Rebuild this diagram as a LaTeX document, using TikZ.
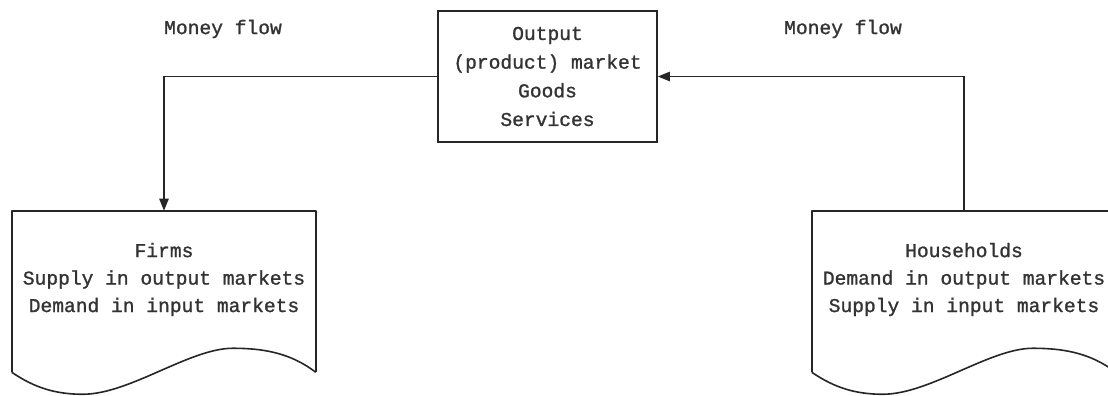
\documentclass[tikz,border=0pt]{standalone}
\usepackage{fontspec}
\setmonofont[FakeBold=1.2]{Liberation Mono}
\usetikzlibrary{arrows.meta}
\begin{document}
\begin{tikzpicture}[x=0.75pt,y=-0.75pt,
  lbl/.style={font=\ttfamily\fontsize{14.7}{21}\selectfont, inner sep=0pt, align=center, text=black!80},
  conn/.style={line width=1.1pt, draw=black!85},
  arr/.style={conn,-{Triangle[length=9pt,width=7pt]}},
  mbox/.style={draw=black!85, line width=1.2pt, minimum width=164.25pt, minimum height=98.25pt, inner sep=0pt, align=center,
    font=\ttfamily\fontsize{14.7}{21.5}\selectfont, text=black!80},
  docarea/.style={draw=none, minimum width=228pt, minimum height=120.75pt, inner sep=0pt},
  docshape/.style={draw=black!85, line width=1.2pt, line join=round}
]
\useasboundingbox (0,0) rectangle (1108,396);
\clip (0,0) rectangle (1108,396);

% output market box
\node[mbox] (out) at (547.5,76.5) {Output\\(product) market\\Goods\\Services};

% document areas
\node[docarea] (firms) at (164,291.5) {};
\node[docarea] (house) at (964,291.5) {};

\foreach \d in {firms,house}{
  \draw[docshape] (\d.south west) -- (\d.north west) -- (\d.north east) -- (\d.south east);
  \begin{scope}[shift={(\d.south west)}]
    \draw[docshape] (304,0) .. controls (278,-20) and (250,-24) .. (221,-24)
      .. controls (178,-24) and (118,22) .. (71,22)
      .. controls (38,22) and (18,12) .. (0,0);
  \end{scope}
}

\node[lbl, font=\ttfamily\fontsize{14.7}{20.6}\selectfont] (firmstext) at (164,279.5)
  {Firms\\Supply in output markets\\Demand in input markets};
\node[lbl, font=\ttfamily\fontsize{14.7}{20.6}\selectfont] (housetext) at (964,279.5)
  {Households\\Demand in output markets\\Supply in input markets};

% money flow labels
\node[lbl] (mfl) at (223,29) {Money flow};
\node[lbl] (mfr) at (843,29) {Money flow};

% connectors
\draw[arr] (out.west) -| (firms.north);
\draw[arr] (house.north) |- (out.east);
\end{tikzpicture}
\end{document}
